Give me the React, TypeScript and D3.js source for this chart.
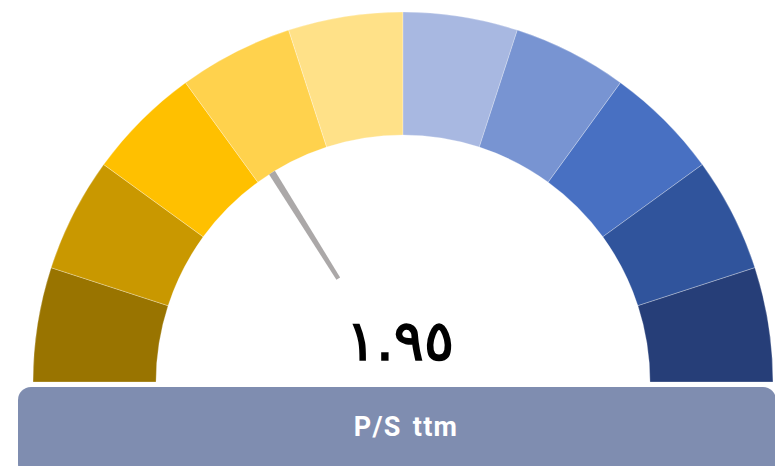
import React from "react";
import * as d3 from "d3";

const segmentColors = [
  "#997400", "#c99800", "#ffc000", "#ffd24d", "#ffe188",
  "#a8b8e1", "#7894d2", "#4870c2", "#30549c", "#263e78",
];
const segmentValues = [1, 1, 1, 1, 1, 1, 1, 1, 1, 1];
const needleValue = 0.322; // fraction of the gauge span
const valueLabel = "١.٩٥";
const titleLabel = "P/S ttm";

const W = 775;
const H = 466;

export default function App() {
  const cx = 403;
  const cy = 382;
  const rOuter = 370;
  const rInner = 247;

  const pie = d3
    .pie<number>()
    .sort(null)
    .value((d) => d)
    .startAngle(-Math.PI / 2)
    .endAngle(Math.PI / 2);
  const arcs = pie(segmentValues);
  const arcGen = d3.arc<d3.PieArcDatum<number>>().innerRadius(rInner).outerRadius(rOuter);

  const angleScale = d3.scaleLinear().domain([0, 1]).range([-Math.PI / 2, Math.PI / 2]);
  const a = angleScale(needleValue);
  const r0 = 122;
  const r1 = 247;
  const w0 = 2.2;
  const w1 = 3.4;
  const ux = Math.sin(a);
  const uy = -Math.cos(a);
  const px = -uy;
  const py = ux;
  const pts = [
    [r0 * ux + w0 * px, r0 * uy + w0 * py],
    [r1 * ux + w1 * px, r1 * uy + w1 * py],
    [r1 * ux - w1 * px, r1 * uy - w1 * py],
    [r0 * ux - w0 * px, r0 * uy - w0 * py],
  ];
  const needlePath = d3.line()(pts as [number, number][]) + "Z";

  return (
    <svg
      width={W}
      height={H}
      style={{ position: "fixed", left: 0, top: 0, background: "#fff" }}
    >
      <g transform={`translate(${cx},${cy})`}>
        {arcs.map((d, i) => (
          <path key={i} d={arcGen(d) || ""} fill={segmentColors[i]} stroke="#fff" strokeWidth={0.4} strokeOpacity={0.7} />
        ))}
        <path d={needlePath} fill="#aba8a8" />
      </g>
      <text
        x={400}
        y={360}
        textAnchor="middle"
        fontFamily="'DejaVu Sans', sans-serif"
        fontWeight="normal"
        fontSize={56}
        fill="#000"
        stroke="#000"
        strokeWidth={1.6}
      >
        {valueLabel}
      </text>
      <rect x={18} y={387} width={758} height={90} rx={13} ry={13} fill="#7f8db0" />
      <text
        x={406}
        y={436}
        textAnchor="middle"
        fontFamily="Roboto, sans-serif"
        fontWeight="bold"
        fontSize={27}
        letterSpacing={1.3}
        wordSpacing={3}
        fill="#fff"
      >
        {titleLabel}
      </text>
    </svg>
  );
}
